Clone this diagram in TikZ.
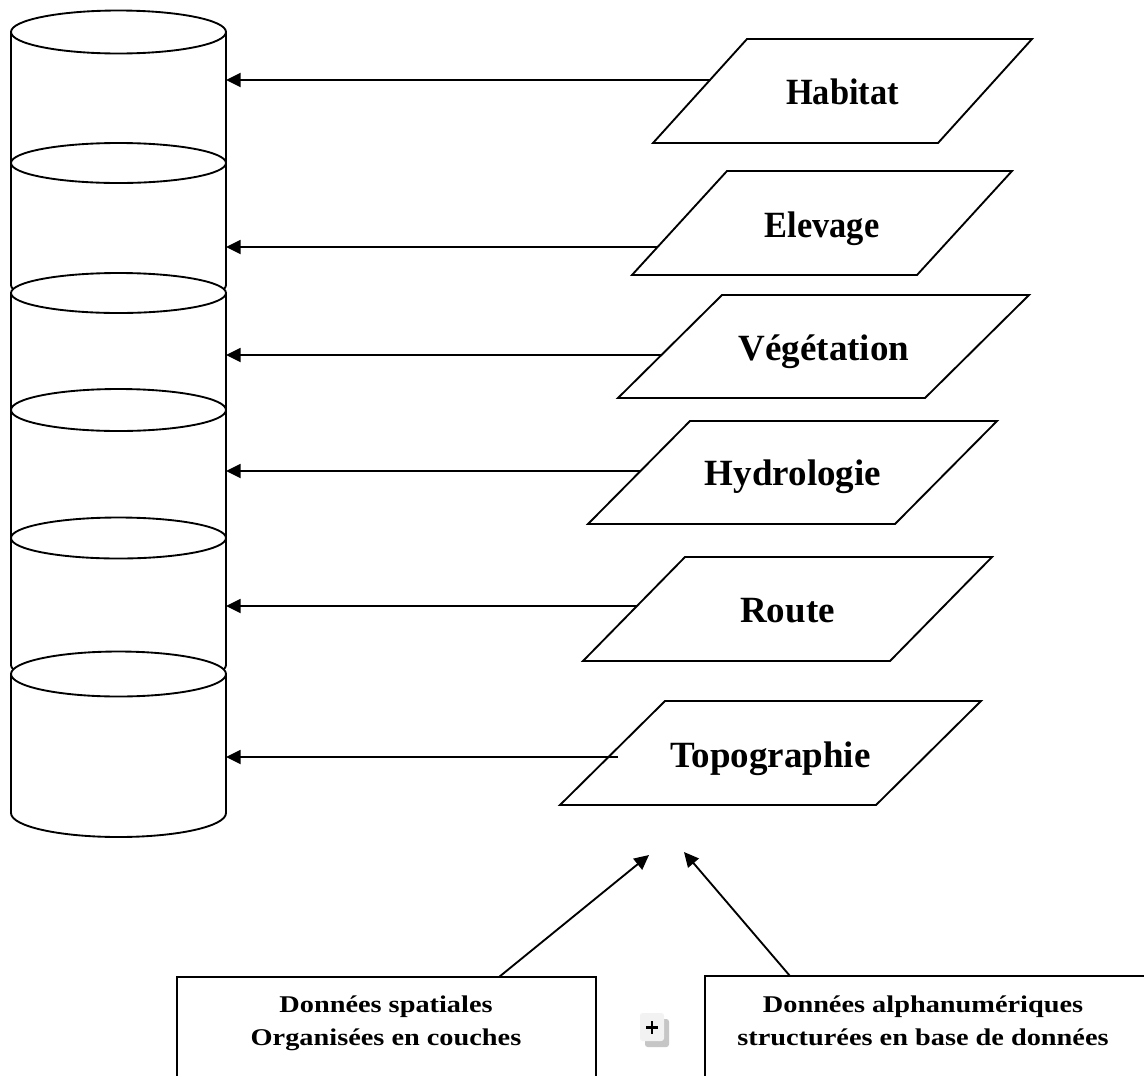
\documentclass[tikz,border=0pt]{standalone}
\usepackage{fontspec}
\setmainfont{Liberation Serif}
\usetikzlibrary{arrows.meta,calc}
\tikzset{
  ln/.style={line width=1.4pt, line join=miter},
  arr/.style={line width=1.4pt, -{Triangle[length=11pt,width=10.5pt]}},
  layertxt/.style={inner sep=0pt, anchor=base, font=\bfseries\fontsize{27.75pt}{33pt}\selectfont},
  boxtxt/.style={inner sep=0pt, anchor=base, font=\bfseries\fontsize{18pt}{24pt}\selectfont},
}
\begin{document}
\begin{tikzpicture}[x=0.75pt,y=-0.75pt]
\useasboundingbox (0,0) rectangle (1144,1075);
\clip (0,0) rectangle (1144,1075);
\fill[white] (0,0) rectangle (1144,1075);

% ---------- cylinder stack ----------
% segment A
\fill[white] (11,32) -- (11,285) arc[start angle=180,end angle=0,x radius=107.5,y radius=21] -- (226,32) -- cycle;
\draw[ln] (11,32) -- (11,285) arc[start angle=180,end angle=0,x radius=107.5,y radius=21] -- (226,32);
\draw[ln,fill=white] (118.5,32) ellipse[x radius=107.5,y radius=21.5];
\draw[ln] (118.5,163) ellipse[x radius=107.5,y radius=20];
% segment B
\fill[white] (11,293) -- (11,665) arc[start angle=180,end angle=0,x radius=107.5,y radius=21] -- (226,293) -- cycle;
\draw[ln] (11,293) -- (11,665) arc[start angle=180,end angle=0,x radius=107.5,y radius=21] -- (226,293);
\draw[ln,fill=white] (118.5,293) ellipse[x radius=107.5,y radius=20];
\draw[ln] (118.5,410) ellipse[x radius=107.5,y radius=21];
\draw[ln] (118.5,538) ellipse[x radius=107.5,y radius=20.5];
% segment C
\fill[white] (11,674) -- (11,813) arc[start angle=180,end angle=0,x radius=107.5,y radius=24] -- (226,674) -- cycle;
\draw[ln] (11,674) -- (11,813) arc[start angle=180,end angle=0,x radius=107.5,y radius=24] -- (226,674);
\draw[ln,fill=white] (118.5,674) ellipse[x radius=107.5,y radius=22.5];

% arrow targets on the cylinder
\coordinate (cH) at (226,80);
\coordinate (cE) at (226,247);
\coordinate (cV) at (226,355);
\coordinate (cY) at (226,471);
\coordinate (cR) at (226,606);
\coordinate (cT) at (226,757);

% ---------- layers (parallelograms) ----------
\draw[ln] (653,143) -- (747,39) -- (1032,39) -- (938,143) -- cycle;
\node[layertxt] (Habitat) at (842.5,104.5) {\scalebox{0.93}[1]{Habitat}};
\coordinate (sH) at (710,80);

\draw[ln] (632,275) -- (727,171) -- (1012,171) -- (917,275) -- cycle;
\node[layertxt] (Elevage) at (822,237) {\scalebox{0.93}[1]{Elevage}};
\coordinate (sE) at (657.5,247);

\draw[ln] (618,398) -- (722,295) -- (1029,295) -- (925,398) -- cycle;
\node[layertxt] (Vegetation) at (824,360) {Végétation};
\coordinate (sV) at (661,355);

\draw[ln] (588,524) -- (690,421) -- (997,421) -- (895,524) -- cycle;
\node[layertxt] (Hydrologie) at (793,485) {Hydrologie};
\coordinate (sY) at (640.5,471);

\draw[ln] (583,661) -- (685,557) -- (992,557) -- (890,661) -- cycle;
\node[layertxt] (Route) at (787.5,622) {Route};
\coordinate (sR) at (637,606);

\draw[ln] (560,805) -- (665,701) -- (981,701) -- (876,805) -- cycle;
\node[layertxt] (Topographie) at (770.5,767) {Topographie};
\coordinate (sT) at (618,757);

\draw[arr] (sH) -- (cH);
\draw[arr] (sE) -- (cE);
\draw[arr] (sV) -- (cV);
\draw[arr] (sY) -- (cY);
\draw[arr] (sR) -- (cR);
\draw[arr] (sT) -- (cT);

% ---------- bottom boxes ----------
\draw[ln] (177,1090) -- (177,977) coordinate (boxLnw) -- (596,977) coordinate (boxLne) -- (596,1090);
\node[boxtxt] (spat1) at (386,1012) {\scalebox{1.18}[1]{Données spatiales}};
\node[boxtxt] (spat2) at (386,1045) {\scalebox{1.18}[1]{Organisées en couches}};

\draw[ln] (705,1090) -- (705,976) coordinate (boxRnw) -- (1160,976);
\node[boxtxt] (alpha1) at (923,1012) {\scalebox{1.18}[1]{Données alphanumériques}};
\node[boxtxt] (alpha2) at (923,1045) {\scalebox{1.18}[1]{structurées en base de données}};

\coordinate (tipL) at (649,855);
\coordinate (tipR) at (684,852);
\coordinate (startL) at (499,977);
\coordinate (startR) at (790,976);
\draw[arr] (startL) -- (tipL);
\draw[arr] (startR) -- (tipR);

% ---------- plus icon ----------
\fill[gray!45, rounded corners=2pt] (645,1019) rectangle (669,1047);
\fill[gray!10, rounded corners=2pt] (640,1013) rectangle (664,1041);
\draw[line width=1.8pt] (652,1021) -- (652,1034);
\draw[line width=1.8pt] (646,1027.5) -- (658,1027.5);
\end{tikzpicture}
\end{document}
